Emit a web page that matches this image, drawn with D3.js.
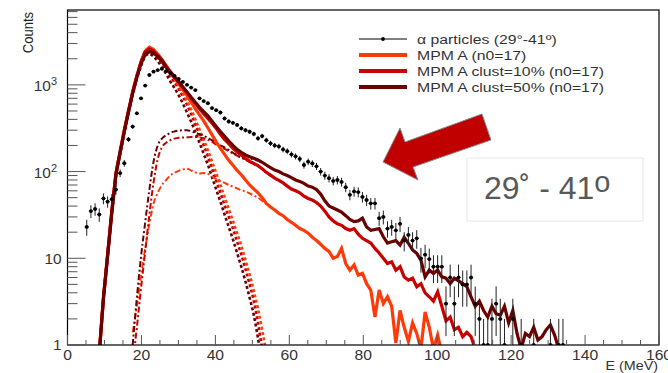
<!DOCTYPE html>
<html><head><meta charset="utf-8">
<script src="https://cdn.jsdelivr.net/npm/d3@7"></script>
<style>
body{margin:0;background:#fff}
svg{display:block}
text{font-family:"Liberation Sans",Arial,Helvetica,sans-serif}
</style>
</head><body>
<svg id="chart" width="668" height="373"></svg>
<script>
// ---------------- DATA ----------------
const binWidth = 1.13;               // MeV per bin
const alphaStart = 5.2;              // centre of first data bin (MeV)
const alphaCounts = [23,35,37,32,49,45,48,62,96,125,235,330,470,700,980,1300,1420,1480,1530,1440,
  1370,1270,1170,1080,1000,930,870,700,650,615,540,510,480,410,378,365,345,315,300,288,
  272,242,257,230,212,200,195,180,172,158,150,140,119,130,124,115,100,90,84,78,
  80,76,66,54,59,58,51,47,43,43,29,30,22,23,21,25,16,18.6,16,17,
  10,11,9.8,8,8,8,3,6,3,6,5,5,6,3,2,1,1,2,3,2,
  1,0,2,0,1,0,0,1,0,0,0,1,0,1,1];

const modelStart = 8.59;             // centre of first model bin (MeV)
const mpmA = [0.8,3.5,11,35,95,170,300,500,830,1270,1850,2450,2720,2560,2250,1950,1650,1400,1200,1030,
  880,750,630,530,450,385,320,265,220,185,158,135,118,103,92,80,70,63,57,50,
  43,39,36,33,31,28,26,24,22,21,19.5,17.5,16,14.5,13,12,10,10.5,13,8.7,
  7.3,8.4,6.4,6.7,5.1,4.3,2.1,4.3,3,3.6,2.8,1.05,2.5,1.6,1.1,1.8,1.36,0.9,2.4,1.6,
  0.9,1.3,0.8,0.5];
const mpmClust10 = [0.8,3.5,11,35,95,170,300,500,825,1260,1830,2400,2600,2460,2200,1950,1650,1420,1250,1080,
  930,810,700,610,530,465,410,360,315,270,235,210,185,168,155,142,131,124,117,108,
  98,91,84,79,74,68,63,60,57,52,49,47,44,40,35,30,27,25,24,22,
  21,22,19,17,16,15,13,11.5,10,8.7,9.1,7.3,8,6.1,5.6,5.9,4.7,5.1,4,3.6,
  3.2,4.1,2.8,1.9,2.1,1.5,1.6,1.25,1.4,1.25,0.9,0.5];
const mpmClust50 = [0.8,3.4,10.5,33,92,165,290,485,800,1220,1750,2250,2420,2330,2120,1860,1600,1400,1230,1090,
  950,830,720,630,550,490,440,380,330,290,255,225,200,180,167,156,148,142,136,128,
  119,111,104,100,94,90,85,80,77,73,68,66,62,55,46,40,38,36,34,31,
  28,26.5,27,29,23,21,21.5,22,17.7,15,15.5,16,14.2,17.5,14.9,12.5,11.4,9.5,6.1,7.3,
  6.7,7.3,6.1,5.9,5.1,5.9,5.5,5.1,4.7,3.6,2.8,3.2,2.5,2.1,2.8,2.3,2.2,2.8,1.8,2.5,
  1.36,0.9,1.36,1.25,1.6,1.14,1.25,1.5,1.7,1.3,0.9,0.5];

// narrow peak components (dotted), same binning as the models
const peakDark = [0.8,3.4,10.5,33,90,160,280,470,770,1170,1650,2150,2280,2120,1870,1600,1340,1100,920,760,
  610,480,375,285,215,160,120,86,62,45,32,23,16.5,11.5,8,5.4,3.5,2.2,1.2,0.6];
const peakRed = [0.8,3.5,10.8,34,93,166,292,490,800,1220,1760,2300,2480,2320,2050,1760,1470,1260,1070,900,
  735,590,460,350,265,200,150,108,78,57,41,30,22,15.5,11,7.5,5,3.2,1.8,0.9];
const peakOrange = [0.8,3.6,11.5,35,97,172,305,505,840,1290,1850,2450,2650,2500,2220,1920,1620,1360,1160,980,
  800,650,520,400,305,232,176,130,96,70,51,37,27,19.5,14,9.5,6.5,4.2,2.6,1.5,0.8];

// broad components (dash-dot)
const broadStart = 17.63;
const broadDark = [1,3.5,10.5,26,62,130,200,240,262,280,290,297,300,300,292,280,270,258,245,230,
  215,200,190,178,165,153,145,140,142,138,134,127,118,110];
const broadRed = [0.6,1.6,4.5,12,32,75,140,190,215,230,240,245,247,248,250,250,248,242,232,220,
  205,193,183,172,162,153,145,137,129,123,116,107,97,90];
const broadOrange = [1.4,2.8,6.5,13,25,43,57,70,80,90,97,102,106,108,103,98,95,96,94,88,
  82,78,74,70,67,64,61,59,56,53,50,46,42,38.5];

const xTickValues = [0,20,40,60,80,100,120,140,160];
const yTickLabels = [["1",""],["10",""],["10","2"],["10","3"]];
const legendLabels = ["\u03b1 particles (29\u00b0-41\u00ba)","MPM A (n0=17)","MPM A clust=10% (n0=17)","MPM A clust=50% (n0=17)"];
const colors = {orange:"#ff3a0a", red:"#c80000", dark:"#6a0000"};

// ---------------- CHART ----------------
const svg = d3.select("#chart");
const L = 67.5, R = 659, T = 10, B = 345;
const x = d3.scaleLinear().domain([0,160]).range([L,R]);
const y = d3.scaleLog().domain([1,7300]).range([B,T]);

// text with a slight horizontal stretch (the reference is wider than tall)
function stext(g, px, py, sx, opts){
  const t = g.append("text").attr("transform",`translate(${px},${py}) scale(${sx},1)`)
    .attr("x",0).attr("y",0);
  Object.entries(opts||{}).forEach(([k,v])=>t.attr(k,v));
  return t;
}

svg.append("defs").append("clipPath").attr("id","plotclip")
  .append("rect").attr("x",L).attr("y",T).attr("width",R-L).attr("height",B-T);

const toPts = (start, vals) => vals.map((v,i)=>({e:start+i*binWidth, v}));
const line = d3.line().x(d=>x(d.e)).y(d=>y(Math.max(d.v,0.3)));
const smooth = d3.line().curve(d3.curveMonotoneX).x(d=>x(d.e)).y(d=>y(Math.max(d.v,0.3)));

const plot = svg.append("g").attr("clip-path","url(#plotclip)");

// components
const comp = [
  [peakDark, modelStart, colors.dark, "3,2.5", 2.6],
  [peakRed, modelStart, colors.red, "3,2.5", 2.6],
  [peakOrange, modelStart, colors.orange, "3,2.5", 2.6],
  [broadOrange, broadStart, colors.orange, "6,2.5,2,2.5", 2],
  [broadRed, broadStart, colors.red, "6,2.5,2,2.5", 2],
  [broadDark, broadStart, colors.dark, "6,2.5,2,2.5", 2]
];
comp.forEach(([vals,start,c,dash,w])=>{
  plot.append("path").attr("d",smooth(toPts(start,vals))).attr("fill","none")
    .attr("stroke",c).attr("stroke-width",w).attr("stroke-dasharray",dash);
});

// solid model curves
[[mpmA,colors.orange],[mpmClust10,colors.red],[mpmClust50,colors.dark]].forEach(([vals,c])=>{
  plot.append("path").attr("d",line(toPts(modelStart,vals))).attr("fill","none")
    .attr("stroke",c).attr("stroke-width",3.2).attr("stroke-linejoin","miter");
});

// data points with Poisson error bars
const dataPts = toPts(alphaStart, alphaCounts).filter(d=>d.v>0);
const dg = plot.append("g");
dataPts.forEach(d=>{
  const err = Math.sqrt(d.v);
  const lo = Math.max(d.v-err,0.3), hi = d.v+err;
  dg.append("line").attr("x1",x(d.e)).attr("x2",x(d.e)).attr("y1",y(lo)).attr("y2",y(hi))
    .attr("stroke","#222").attr("stroke-width",1);
  dg.append("line").attr("x1",x(d.e-binWidth/2)).attr("x2",x(d.e+binWidth/2)).attr("y1",y(d.v)).attr("y2",y(d.v))
    .attr("stroke","#222").attr("stroke-width",1);
  dg.append("circle").attr("cx",x(d.e)).attr("cy",y(d.v)).attr("r",1.9).attr("fill","#000");
});

// frame
svg.append("rect").attr("x",L).attr("y",T).attr("width",R-L).attr("height",B-T)
  .attr("fill","none").attr("stroke","#000").attr("stroke-width",1.2);

// x ticks
const tickCol = "#555";
d3.range(0,161,5).forEach(v=>{
  const major = v%20===0;
  svg.append("line").attr("x1",x(v)).attr("x2",x(v)).attr("y1",B).attr("y2",B-(major?10:5))
    .attr("stroke",tickCol).attr("stroke-width",1);
});
xTickValues.forEach(v=>{
  stext(svg, x(v), 359.5, 1.12, {"text-anchor":"middle","font-size":14,"fill":"#333"}).text(v);
});
// y ticks
for(let dec=0; dec<4; dec++){
  for(let m=1; m<=9; m++){
    const v = m*Math.pow(10,dec);
    if(v>7300) continue;
    svg.append("line").attr("x1",L).attr("x2",L+(m===1?18:10)).attr("y1",y(v)).attr("y2",y(v))
      .attr("stroke",tickCol).attr("stroke-width",1);
  }
}
yTickLabels.forEach((lab,i)=>{
  const v = Math.pow(10,i);
  const t = stext(svg, lab[1]? 57 : 61.5, y(v)+(i===0?5:6), 1.1,
    {"text-anchor":"end","font-size":14,"fill":"#333"});
  t.append("tspan").text(lab[0]);
  if(lab[1]) t.append("tspan").attr("font-size",10).attr("dy",-6).text(lab[1]);
});

// axis titles
svg.append("text").attr("transform","translate(33,12) scale(1.15,1) rotate(-90)").attr("text-anchor","end")
  .attr("font-size",13).attr("fill","#222").text("Counts");
stext(svg, 658, 370, 1.1, {"text-anchor":"end","font-size":13,"fill":"#333"}).text("E (MeV)");

// legend
const lg = svg.append("g");
const legY = [39,55,71,87];
const legColors = ["#000",colors.orange,colors.red,colors.dark];
legendLabels.forEach((lab,i)=>{
  lg.append("line").attr("x1",359).attr("x2",407).attr("y1",legY[i]).attr("y2",legY[i])
    .attr("stroke",legColors[i]).attr("stroke-width", i===0?1:3.8);
  if(i===0) lg.append("circle").attr("cx",383).attr("cy",legY[i]).attr("r",1.9).attr("fill","#000");
  stext(lg, 417, legY[i]+5, 1.17, {"font-size":13.5,"fill":"#333"}).text(lab);
});

// arrow annotation
const arrowPts = [[383,162],[418,180],[413,167],[491,140],[482,114],[405,142],[400,128]];
svg.append("polygon").attr("points",arrowPts.map(p=>p.join(",")).join(" "))
  .attr("fill","#c00000").attr("stroke","#8a8a8a").attr("stroke-width",1);

// angle box
svg.append("rect").attr("x",467).attr("y",158).attr("width",176).attr("height",63)
  .attr("fill","#fff").attr("stroke","#ececec").attr("stroke-width",1.2);
const at = svg.append("text").attr("x",484).attr("y",199).attr("font-size",32).attr("fill","#595959");
at.append("tspan").text("29\u02da - 41");
at.append("tspan").attr("font-size",29).attr("dy",-7).text("o");
</script>
</body></html>
